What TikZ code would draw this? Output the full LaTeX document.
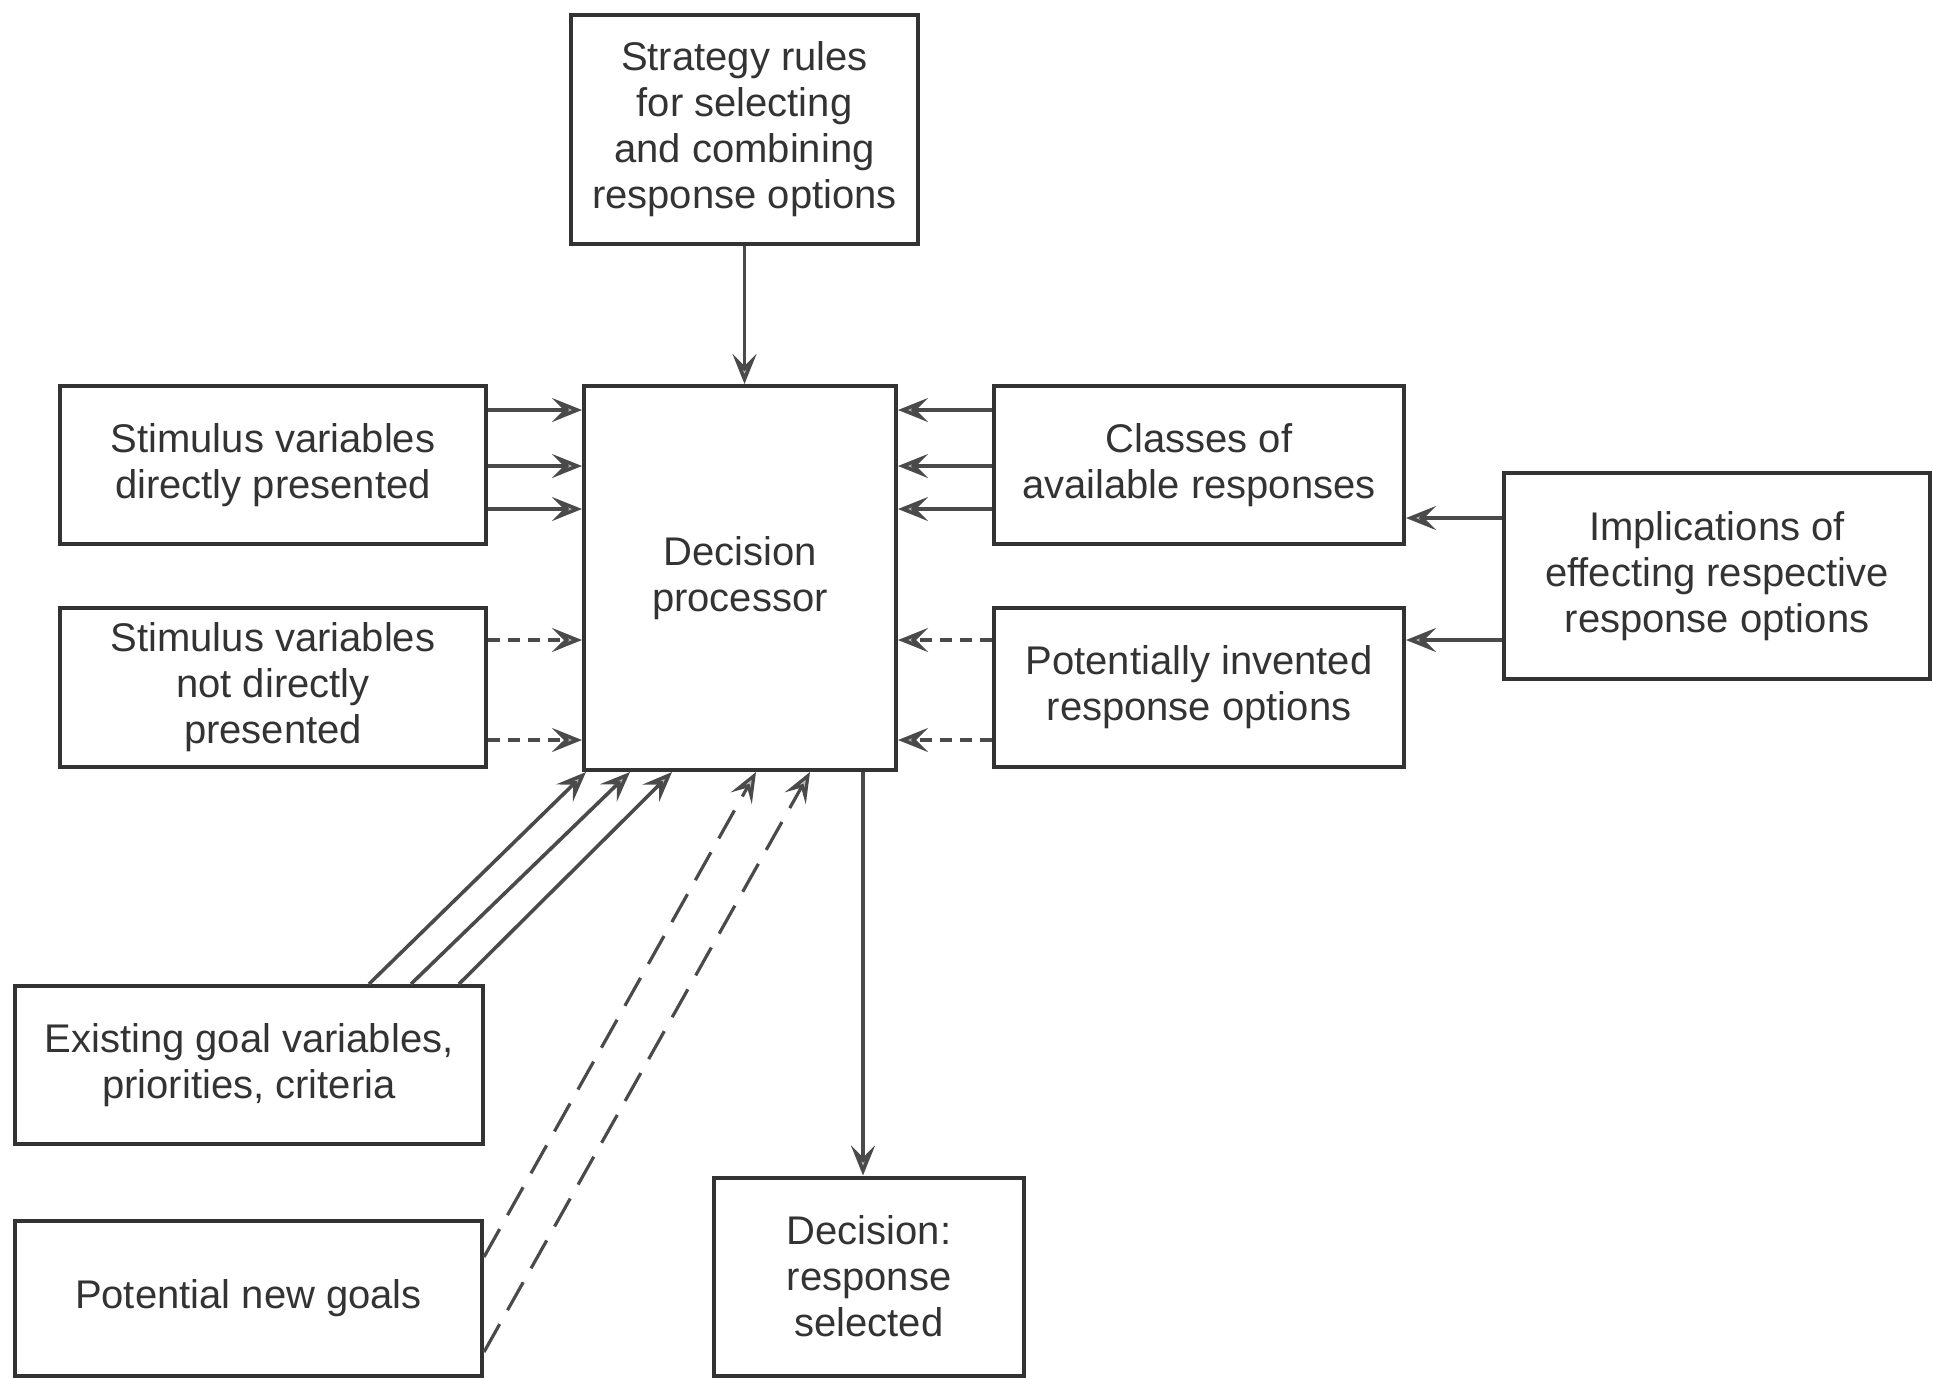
\documentclass[tikz,border=0pt]{standalone}
\usepackage{fontspec}
\setmainfont{Liberation Sans}
\usepackage{tikz}
\usetikzlibrary{arrows.meta}

\definecolor{ink}{HTML}{333333}
\definecolor{wire}{HTML}{4A4A4A}

\tikzset{
	block/.style={draw=ink, line width=2pt, align=center, inner sep=0pt,
		font=\fontsize{20}{23}\selectfont, text=ink},
	feed/.style={draw=wire, line width=1.8pt,
		-{Stealth[length=15pt, width=12pt, inset=6pt, fill=gray!55]}},
	weakfeed/.style={feed, dash pattern=on 6pt off 4pt},
	longdash/.style={feed, line width=1.6pt, dash pattern=on 16pt off 8pt}
}

\begin{document}
\begin{tikzpicture}[x=0.5pt, y=-0.5pt]
					\useasboundingbox (0,0) rectangle (1933,1378);

					\draw
						(744.5,129.5) node[block, minimum width=173.5pt, minimum height=114.5pt] (strat)
							{Strategy rules\\for selecting\\and combining\\response options}
						(740,578) node[block, minimum width=156pt, minimum height=192pt] (dp)
							{Decision\\processor};

					\draw
						(273,465) node[block, minimum width=213pt, minimum height=79pt] (stimd)
							{Stimulus variables\\directly presented}
						(273,687.5) node[block, minimum width=213pt, minimum height=79.5pt] (stimn)
							{Stimulus variables\\not directly\\presented}
						(249,1065) node[block, minimum width=234pt, minimum height=79pt] (goal)
							{Existing goal variables,\\priorities, criteria}
						(248.5,1298) node[block, minimum width=233.5pt, minimum height=77.5pt] (newg)
							{Potential new goals};

					\draw
						(1199,465) node[block, minimum width=205pt, minimum height=79pt] (cls)
							{Classes of\\available responses}
						(1199,687.5) node[block, minimum width=205pt, minimum height=79.5pt] (pot)
							{Potentially invented\\response options}
						(1717,576) node[block, minimum width=213pt, minimum height=103pt] (impl)
							{Implications of\\effecting respective\\response options}
						(869,1276.5) node[block, minimum width=155pt, minimum height=99pt] (dec)
							{Decision:\\response\\selected};

					\draw[feed]
						(strat.south) -- (strat.south |- dp.north);

					\draw[feed] (stimd.east |- 0,410) -- (dp.west |- 0,410);
					\draw[feed] (stimd.east |- 0,466) -- (dp.west |- 0,466);
					\draw[feed] (stimd.east |- 0,509) -- (dp.west |- 0,509);
					\draw[weakfeed] (stimn.east |- 0,640) -- (dp.west |- 0,640);
					\draw[weakfeed] (stimn.east |- 0,740) -- (dp.west |- 0,740);

					\draw[feed] (cls.west |- 0,410) -- (dp.east |- 0,410);
					\draw[feed] (cls.west |- 0,466) -- (dp.east |- 0,466);
					\draw[feed] (cls.west |- 0,509) -- (dp.east |- 0,509);
					\draw[weakfeed] (pot.west |- 0,640) -- (dp.east |- 0,640);
					\draw[weakfeed] (pot.west |- 0,740) -- (dp.east |- 0,740);

					\draw[feed] (impl.west |- 0,518) -- (cls.east |- 0,518);
					\draw[feed] (impl.west |- 0,640) -- (pot.east |- 0,640);

					\draw[feed] (369,0 |- goal.north) -- (586,0 |- dp.south);
					\draw[feed] (411,0 |- goal.north) -- (630,0 |- dp.south);
					\draw[feed] (459,0 |- goal.north) -- (672,0 |- dp.south);
					\draw[longdash] (newg.east |- 0,1257) -- (756,0 |- dp.south);
					\draw[longdash] (newg.east |- 0,1352) -- (810,0 |- dp.south);

					\draw[feed]
						(863,0 |- dp.south) -- (863,0 |- dec.north);
\end{tikzpicture}
\end{document}
